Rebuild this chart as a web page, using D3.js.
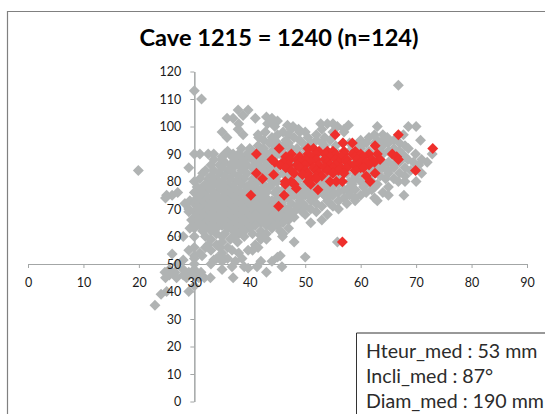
<!DOCTYPE html>
<html><head><meta charset="utf-8">
<script src="https://cdnjs.cloudflare.com/ajax/libs/d3/7.8.5/d3.min.js"></script>
<style>html,body{margin:0;padding:0;background:#fff;overflow:hidden}svg{display:block}</style>
</head><body><svg id="c" width="545" height="414"></svg>
<script>
const titleText = "Cave 1215 = 1240 (n=124)";
const xTicks = [0,10,20,30,40,50,60,70,80,90];
const yTicks = [0,10,20,30,40,50,60,70,80,90,100,110,120];
const noteLines = ["Hteur_med : 53 mm","Incli_med : 87°","Diam_med : 190 mm"];
// rows of [y, [x values]]
const grayRows = [
[115,[66.8]],[113,[30]],[110,[31.3]],[106,[37.9,39.7]],[104,[38.8]],[103.5,[43]],[103,[35.9,37,41,44]],
[102,[43.7,45]],[101,[38,43.2,54,52.8,55]],[100.5,[46.8,57.8]],[100,[55.8,63,68.6,70,44.5,47.8]],[99,[37.9,48.8,53,47.5,57]],[98,[35,42.8,50,55,57,46,49]],
[97,[38.8,67.7,41.5,52,45,47,62.5,64]],[96,[35.9,41.6,44,48,64.8,50.5,53.5,61.5]],[95,[42.5,52,54.5,64,70.8,46.5,66,63,49,60,44]],
[94,[43.5,47,49.5,58,59.6,61,62.5,65,67,56.8,45,51,53]],[93,[41.5,44.5,46,51,53.5,55.5,68,60,64]],
[92,[38.5,40,42.5,46,47.5,48.5,50,60,63.5,66,68.6]],[91,[36,40.5,42,44,45.5,52,54,58,61.5,65,67]],
[90,[30,31,32.5,33.5,35.5,37,38,39.5,41.5,43,45,47,49,56,64,67.5,69.9,72.9]],
[89,[35,36.8,38.5,40,42,43.5,46,50,52,54,60,62,66,68]],[88,[33.5,35,37.5,39,40.5,42,44,48,56,58,63.5,68.5,71]],
[87,[35.5,37,39,41.5,43,46.5,50.5,53,60.5,65,67,69.5,72]],[86,[33,34.5,36.5,38,39.5,41,43,45,48,55,58,62.5,70.5,64,66]],
[85,[29,35,37,38.8,40.5,42,43.5,47,51,53,57,64,66,68,61.5]],[84,[19.9,32,33.5,36,38.5,41,43,44.5,49.5,55,60,63,65,69]],
[83,[31.5,34.5,37,39.5,41,43,46,48,52,57.5,60,62,65,67,71]],[82,[33,35.5,38,42,45,47,50,54,56,59,61.5,63.5,68]],
[81,[31,32.5,34,36.5,39,40.5,43.5,47,49,53,56,59,64.5,66]],[80,[30,33,35,37.5,41.5,45,48.5,52,54,58,60,62,66.8,68,70]],
[79,[32,34,36,38.5,40,42.5,44,46.5,48,50,53,56,58.5,61,63]],[78,[30.5,31.5,33,35,37,39.5,41,43.5,47,49,51,53,55,58,60.5,62.5,65]],
[77,[32.5,34.5,36,38,40,42,45,46,50,52,54,57,59,62]],[76,[27,30,31,33.5,35.5,37,39,41,43,44.5,47.5,49,51,53,55,56,58,61,64]],
[75,[25,26,32,34,36,38,40,42,46,48,50,52,53.5,55,58,60,65,67.8]],[74,[24.8,30.5,31.5,33,35,37,39,41,43,45,47,49,51,54,57,59,62.5]],
[73,[29.2,32,34,36,38,40,42,44,46,49,51,54,56,59,63]],[72,[28.3,30,31,33,35,37,39,41,43,45,47.5,49.5,52,54.5,57.5]],
[71,[30.5,32,34,36,38,40,42,44,46,48.5,50,53,55]],[70,[29,31,33,35,37,39,41,43,45,47,49,51,56]],
[69,[29,30,32,34,36,38,40,42,44,46,48,49.5,52]],[68,[31,33,35,37,39,41,43,45,47,50,54]],
[67,[30,32,34,36,38,40,42,44,46,48]],[66,[29.5,31,33,35,37,39,41,43,45,47,53]],
[65,[30,32,34,36,38,40,42,44,46,51]],[64,[31,33,35,37,39,41,43,45]],
[63,[29.2,30,32,34,36,38,40,44,47]],[62,[31.5,33,37,39,42,45.5]],[61,[34,35.5,38,40.5,43,46]],
[60.5,[41.9]],[60,[28,30,32,35,37,39,45.9]],[59,[33,36.5,42,43]],[58,[35,48,55.8,37.8]],[57,[32.5,34,41]],
[56,[30,32,34.6,36,41.5]],[55,[29,33,36.8,39.7,40.5]],[54,[31,35,38]],[53.6,[26]],[53,[30,31.4,34.8,45.5]],
[52.5,[45,50]],[52,[30,34,38.6,36]],[51.5,[28,33.5]],[51,[35,37.4,44,42]],[50,[30,33,27]],[49,[36.8,41.3,45.8,39]],
[48.5,[39.7]],[48,[30,35,25.5,28]],[47,[24.7,26.5,29,43,31.2]],[46,[25.5,28,29.8,31]],[45,[24.8,26.8,28.6,30.8,31.8,32.9,37]],
[42,[30]],[40,[25,29]],[39,[24]],[35,[22.9]]
];
const redRows = [
[97,[55.4,66.8]],[94,[56.8,58.5]],[93,[62.6]],[92,[45.3,50.5,73,51.5]],[91,[52.5,54,55,57,59]],
[90,[41.2,47.5,50.5,52,53.5,55.5,57,58.5,60,61.5,63,65.7]],[89,[46.5,49,51,54.5,56.5,59,60.5,66.5]],
[88,[44,47.3,48.5,50,52,53.5,55.5,57.5,59.5,62,63.5,66.8]],[87,[44.5,46,49,51,54,56,57.5,60,61,62.5]],
[86,[45.5,47,48.5,50,52.5,54.5,55.5,58,58.8,61.5]],[85,[46.5,49,51.5,53.5,55,56.5,57.5,60,60.5]],
[84,[47.5,50,52,54,56,59,69.9]],[83,[41.2,48,50.5,52.5,55,57,62.6]],[82.5,[44.3,49.5]],[82,[50.5,52,53,61]],
[81,[42.3,51,52]],[80,[47.5,46.4,50.5,54.5,55.6,56.7,61.7]],[79,[46.4,48,51]],[77.5,[48.4]],[77,[52.3]],
[75,[40.2,46.2]],[71,[45.2]],[58,[56.7]]
];

const W=545,H=414;
const x=d3.scaleLinear().domain([0,90]).range([28,527]);
const y=d3.scaleLinear().domain([0,120]).range([401.5,71.5]);
const svg=d3.select("#c");
const font="Lato, Carlito, sans-serif";

svg.append("path").attr("d",`M7.5,${H}V11.5H${W}`).attr("fill","none").attr("stroke","#808080").attr("stroke-width",1.2);

const flat=rows=>rows.flatMap(([v,xs])=>xs.map(u=>[u,v]));
const sym=d3.symbol().type(d3.symbolSquare).size(60);
const marks=(data,col)=>svg.append("g").selectAll("path").data(data).join("path")
  .attr("d",sym)
  .attr("transform",d=>`translate(${x(d[0])},${y(d[1])}) rotate(45)`)
  .attr("fill",col);

const xAxis=d3.axisBottom(x).tickValues(xTicks).tickSize(4).tickPadding(10).tickSizeOuter(0);
const yAxis=d3.axisLeft(y).tickValues(yTicks).tickSize(4).tickPadding(9).tickSizeOuter(0);
const drawAxes=()=>[
  svg.append("g").attr("transform",`translate(0,${y(50)})`).call(xAxis),
  svg.append("g").attr("transform",`translate(${x(30)},0)`).call(yAxis)
];
// lines sit under the markers, labels sit above them
const lineAxes=drawAxes();
lineAxes.forEach(g=>{
  g.selectAll("text").remove();
  g.selectAll("path,line").attr("stroke","#a3a6a6").attr("stroke-width",1);
});
lineAxes[1].select("path").attr("stroke-width",1.5);

marks(flat(grayRows),"#b0b3b3");
marks(flat(redRows),"#ee2f2c");

const labelAxes=drawAxes();
labelAxes.forEach(g=>{
  g.selectAll("path,line").remove();
  g.selectAll("text").attr("font-family",font).attr("font-size",12.5).attr("fill","#1a1a1a");
});

svg.append("text").text(titleText).attr("x",279).attr("y",46).attr("text-anchor","middle")
  .attr("font-family",font).attr("font-weight",700).attr("font-size",23.6).attr("fill","#000");

svg.append("path").attr("d",`M356.5,${H}V333H${W}`).attr("fill","none").attr("stroke","#333").attr("stroke-width",1);
svg.append("g").selectAll("text").data(noteLines).join("text")
  .text(d=>d).attr("x",366).attr("y",(d,i)=>358+i*25)
  .attr("font-family",font).attr("font-size",19.6).attr("fill","#2b2b2b");
</script></body></html>
